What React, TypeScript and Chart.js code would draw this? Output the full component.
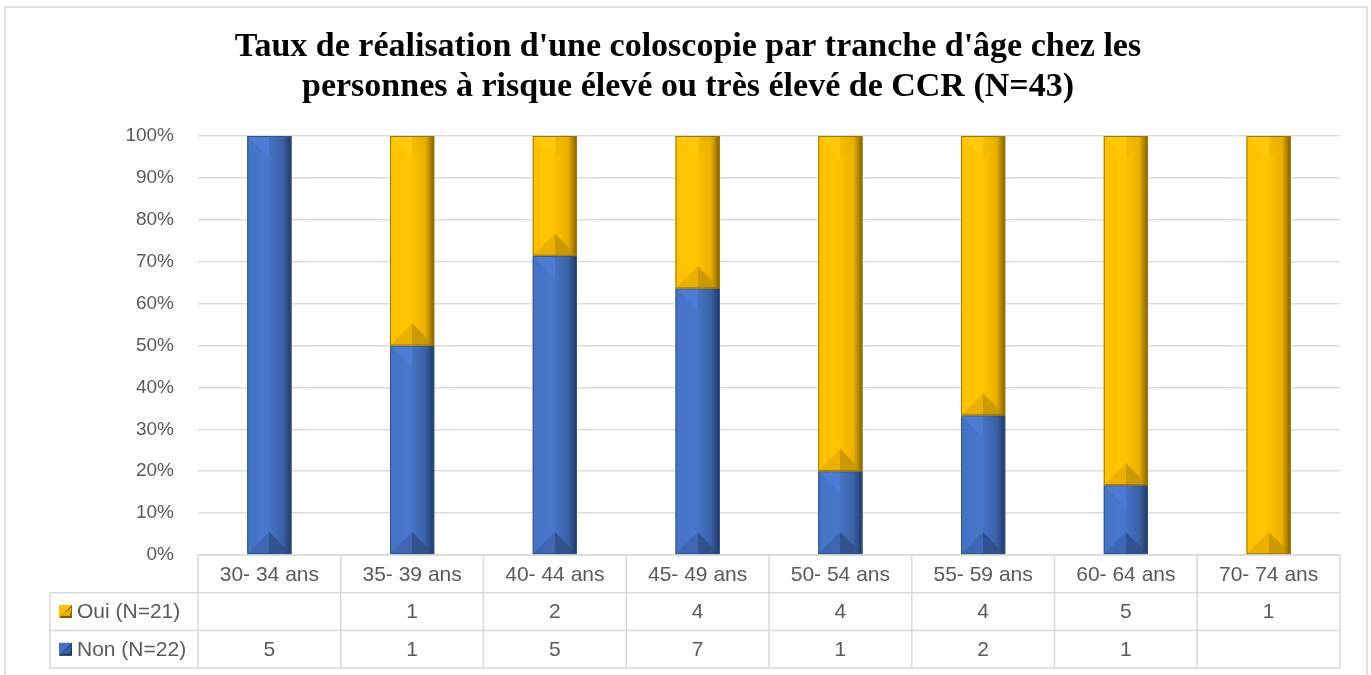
import React, { useEffect, useRef } from "react";
import { Chart, registerables } from "chart.js";

Chart.register(...registerables);

const titleLines = [
  "Taux de réalisation d'une coloscopie par tranche d'âge chez les",
  "personnes à risque élevé ou très élevé de CCR (N=43)",
];
const categories = [
  "30- 34 ans",
  "35- 39 ans",
  "40- 44 ans",
  "45- 49 ans",
  "50- 54 ans",
  "55- 59 ans",
  "60- 64 ans",
  "70- 74 ans",
];
const ouiLabel = "Oui (N=21)";
const nonLabel = "Non (N=22)";
const ouiCounts: (number | null)[] = [null, 1, 2, 4, 4, 4, 5, 1];
const nonCounts: (number | null)[] = [5, 1, 5, 7, 1, 2, 1, null];

const totals = categories.map((_, i) => (ouiCounts[i] ?? 0) + (nonCounts[i] ?? 0));
const nonPct = categories.map((_, i) => ((nonCounts[i] ?? 0) / totals[i]) * 100);
const ouiPct = categories.map((_, i) => ((ouiCounts[i] ?? 0) / totals[i]) * 100);

type Pal = {
  base: string; light: string; dark: string; edgeR: string;
  topA: string; topB: string; botA: string; botB: string; outline: string;
};
const bluePal: Pal = {
  base: "#4472C4", light: "#4877CA", dark: "#3A62A8", edgeR: "#1F3864",
  topA: "#4C7DD6", topB: "#4572C2", botA: "#3D67B3", botB: "#30538F", outline: "#2F528F",
};
const yellowPal: Pal = {
  base: "#FFC000", light: "#FFC400", dark: "#EAB000", edgeR: "#7F6000",
  topA: "#FFCA0A", topB: "#F7BA00", botA: "#EDB000", botB: "#CC9900", outline: "#9C7600",
};

function drawBevel(ctx: CanvasRenderingContext2D, x0: number, x1: number, top: number, bottom: number, p: Pal) {
  const w = x1 - x0;
  const h = bottom - top;
  if (!(h > 0.5)) return;
  ctx.save();
  const g = ctx.createLinearGradient(x0, 0, x1, 0);
  g.addColorStop(0, p.base);
  g.addColorStop(0.45, p.light);
  g.addColorStop(0.52, p.base);
  g.addColorStop(0.8, p.dark);
  g.addColorStop(1, p.edgeR);
  ctx.fillStyle = g;
  ctx.fillRect(x0, top, w, h);
  const d = Math.min(w / 2, h / 2);
  const cx = x0 + w / 2;
  const gt = ctx.createLinearGradient(x0, 0, x1, 0);
  gt.addColorStop(0, p.topA);
  gt.addColorStop(0.5, p.topA);
  gt.addColorStop(0.5, p.topB);
  gt.addColorStop(0.8, p.dark);
  gt.addColorStop(1, p.edgeR);
  ctx.fillStyle = gt;
  ctx.beginPath();
  ctx.moveTo(x0, top);
  ctx.lineTo(x1, top);
  ctx.lineTo(cx, top + d);
  ctx.closePath();
  ctx.fill();
  const gb = ctx.createLinearGradient(x0, 0, x1, 0);
  gb.addColorStop(0, p.botA);
  gb.addColorStop(0.5, p.botA);
  gb.addColorStop(0.5, p.botB);
  gb.addColorStop(0.85, p.botB);
  gb.addColorStop(1, p.edgeR);
  ctx.fillStyle = gb;
  ctx.beginPath();
  ctx.moveTo(x0, bottom);
  ctx.lineTo(x1, bottom);
  ctx.lineTo(cx, bottom - d);
  ctx.closePath();
  ctx.fill();
  ctx.strokeStyle = p.outline;
  ctx.lineWidth = 1;
  ctx.strokeRect(x0 + 0.5, top + 0.5, w - 1, h - 1);
  ctx.restore();
}

const pals = [bluePal, yellowPal];

const bevelPlugin = {
  id: "bevelBars",
  afterDatasetsDraw(chart: any) {
    const ctx = chart.ctx as CanvasRenderingContext2D;
    chart.data.datasets.forEach((_: any, di: number) => {
      const meta = chart.getDatasetMeta(di);
      meta.data.forEach((el: any) => {
        const { x, y, base, width } = el.getProps(["x", "y", "base", "width"], true);
        if (!isFinite(x) || !isFinite(y) || !isFinite(base)) return;
        drawBevel(ctx, x - width / 2, x + width / 2, Math.min(y, base), Math.max(y, base), pals[di]);
      });
    });
  },
};

const framePlugin = {
  id: "frame",
  beforeDraw(chart: any) {
    const ctx = chart.ctx as CanvasRenderingContext2D;
    ctx.save();
    ctx.fillStyle = "#ffffff";
    ctx.fillRect(0, 0, chart.width, chart.height);
    ctx.strokeStyle = "#D9D9D9";
    ctx.lineWidth = 1.5;
    ctx.strokeRect(5, 7, chart.width - 9, chart.height + 20);
    ctx.restore();
  },
};

function drawBevelKey(ctx: CanvasRenderingContext2D, x: number, y: number, s: number, p: Pal) {
  ctx.save();
  ctx.fillStyle = p.base;
  ctx.fillRect(x, y, s, s);
  ctx.fillStyle = p.edgeR;
  ctx.beginPath();
  ctx.moveTo(x + s, y);
  ctx.lineTo(x + s, y + s);
  ctx.lineTo(x, y + s);
  ctx.closePath();
  ctx.fill();
  ctx.fillStyle = p.dark;
  ctx.beginPath();
  ctx.moveTo(x + s, y + 2);
  ctx.lineTo(x + s - 2, y + s - 2);
  ctx.lineTo(x + 2, y + s - 2);
  ctx.closePath();
  ctx.fill();
  ctx.restore();
}

const tablePlugin = {
  id: "dataTable",
  afterDraw(chart: any) {
    const ctx = chart.ctx as CanvasRenderingContext2D;
    const xs = chart.scales.x;
    const area = chart.chartArea;
    const n = categories.length;
    const cw = (area.right - area.left) / n;
    const rowH = 37.7;
    const y0 = area.bottom;
    const y1 = y0 + rowH;
    const y2 = y1 + rowH;
    const y3 = y2 + rowH;
    const leftX = 50;
    ctx.save();
    ctx.strokeStyle = "#D9D9D9";
    ctx.lineWidth = 1.5;
    ctx.beginPath();
    ctx.moveTo(area.left, y0); ctx.lineTo(area.right, y0);
    ctx.moveTo(leftX, y1); ctx.lineTo(area.right, y1);
    ctx.moveTo(leftX, y2); ctx.lineTo(area.right, y2);
    ctx.moveTo(leftX, y3); ctx.lineTo(area.right, y3);
    ctx.moveTo(leftX, y1); ctx.lineTo(leftX, y3);
    for (let i = 0; i <= n; i++) {
      const x = area.left + i * cw;
      ctx.moveTo(x, y0); ctx.lineTo(x, y3);
    }
    ctx.stroke();

    ctx.fillStyle = "#595959";
    ctx.font = "21px 'Liberation Sans', Arial, sans-serif";
    ctx.textAlign = "center";
    ctx.textBaseline = "middle";
    categories.forEach((c, i) => {
      const cx = xs.getPixelForValue(i);
      ctx.fillText(c, cx, (y0 + y1) / 2 + 1);
      const o = ouiCounts[i];
      const nn = nonCounts[i];
      if (o !== null) ctx.fillText(String(o), cx, (y1 + y2) / 2 + 1);
      if (nn !== null) ctx.fillText(String(nn), cx, (y2 + y3) / 2 + 1);
    });
    const key = 13;
    const kx = 59;
    drawBevelKey(ctx, kx, (y1 + y2) / 2 - key / 2, key, yellowPal);
    drawBevelKey(ctx, kx, (y2 + y3) / 2 - key / 2, key, bluePal);
    ctx.fillStyle = "#595959";
    ctx.textAlign = "left";
    ctx.fillText(ouiLabel, 77, (y1 + y2) / 2 + 1);
    ctx.fillText(nonLabel, 77, (y2 + y3) / 2 + 1);
    ctx.restore();
  },
};

export default function App() {
  const ref = useRef<HTMLCanvasElement | null>(null);
  useEffect(() => {
    if (!ref.current) return;
    const chart = new Chart(ref.current, {
      type: "bar",
      data: {
        labels: categories,
        datasets: [
          {
            label: nonLabel,
            data: nonPct,
            backgroundColor: "rgba(0,0,0,0)",
            borderWidth: 0,
            barPercentage: 1,
            categoryPercentage: 0.31,
          },
          {
            label: ouiLabel,
            data: ouiPct,
            backgroundColor: "rgba(0,0,0,0)",
            borderWidth: 0,
            barPercentage: 1,
            categoryPercentage: 0.31,
          },
        ],
      },
      options: {
        responsive: false,
        animation: false,
        devicePixelRatio: 1,
        layout: { padding: { top: 7, left: 36, right: 31, bottom: 120 } },
        plugins: {
          legend: { display: false },
          tooltip: { enabled: false },
          title: {
            display: true,
            text: titleLines,
            color: "#000000",
            font: { family: "'Liberation Serif', 'DejaVu Serif', serif", size: 34, weight: "bold", lineHeight: "40px" as any },
            padding: { top: 20, bottom: 29 },
          },
        },
        scales: {
          x: {
            display: false,
            stacked: true,
          },
          y: {
            stacked: true,
            min: 0,
            max: 100,
            ticks: {
              stepSize: 10,
              padding: 24,
              color: "#595959",
              font: { family: "'Liberation Sans', Arial, sans-serif", size: 19 },
              callback: (v: any) => v + "%",
            },
            grid: { color: "#DCDCDC", lineWidth: 1.5, drawTicks: false },
            border: { display: false },
            afterFit: (s: any) => {
              s.width = 162;
            },
          },
        },
      },
      plugins: [framePlugin, bevelPlugin, tablePlugin],
    });
    return () => chart.destroy();
  }, []);
  return (
    <canvas
      ref={ref}
      width={1371}
      height={675}
      style={{ position: "absolute", left: 0, top: 0, width: 1371, height: 675 }}
    />
  );
}
